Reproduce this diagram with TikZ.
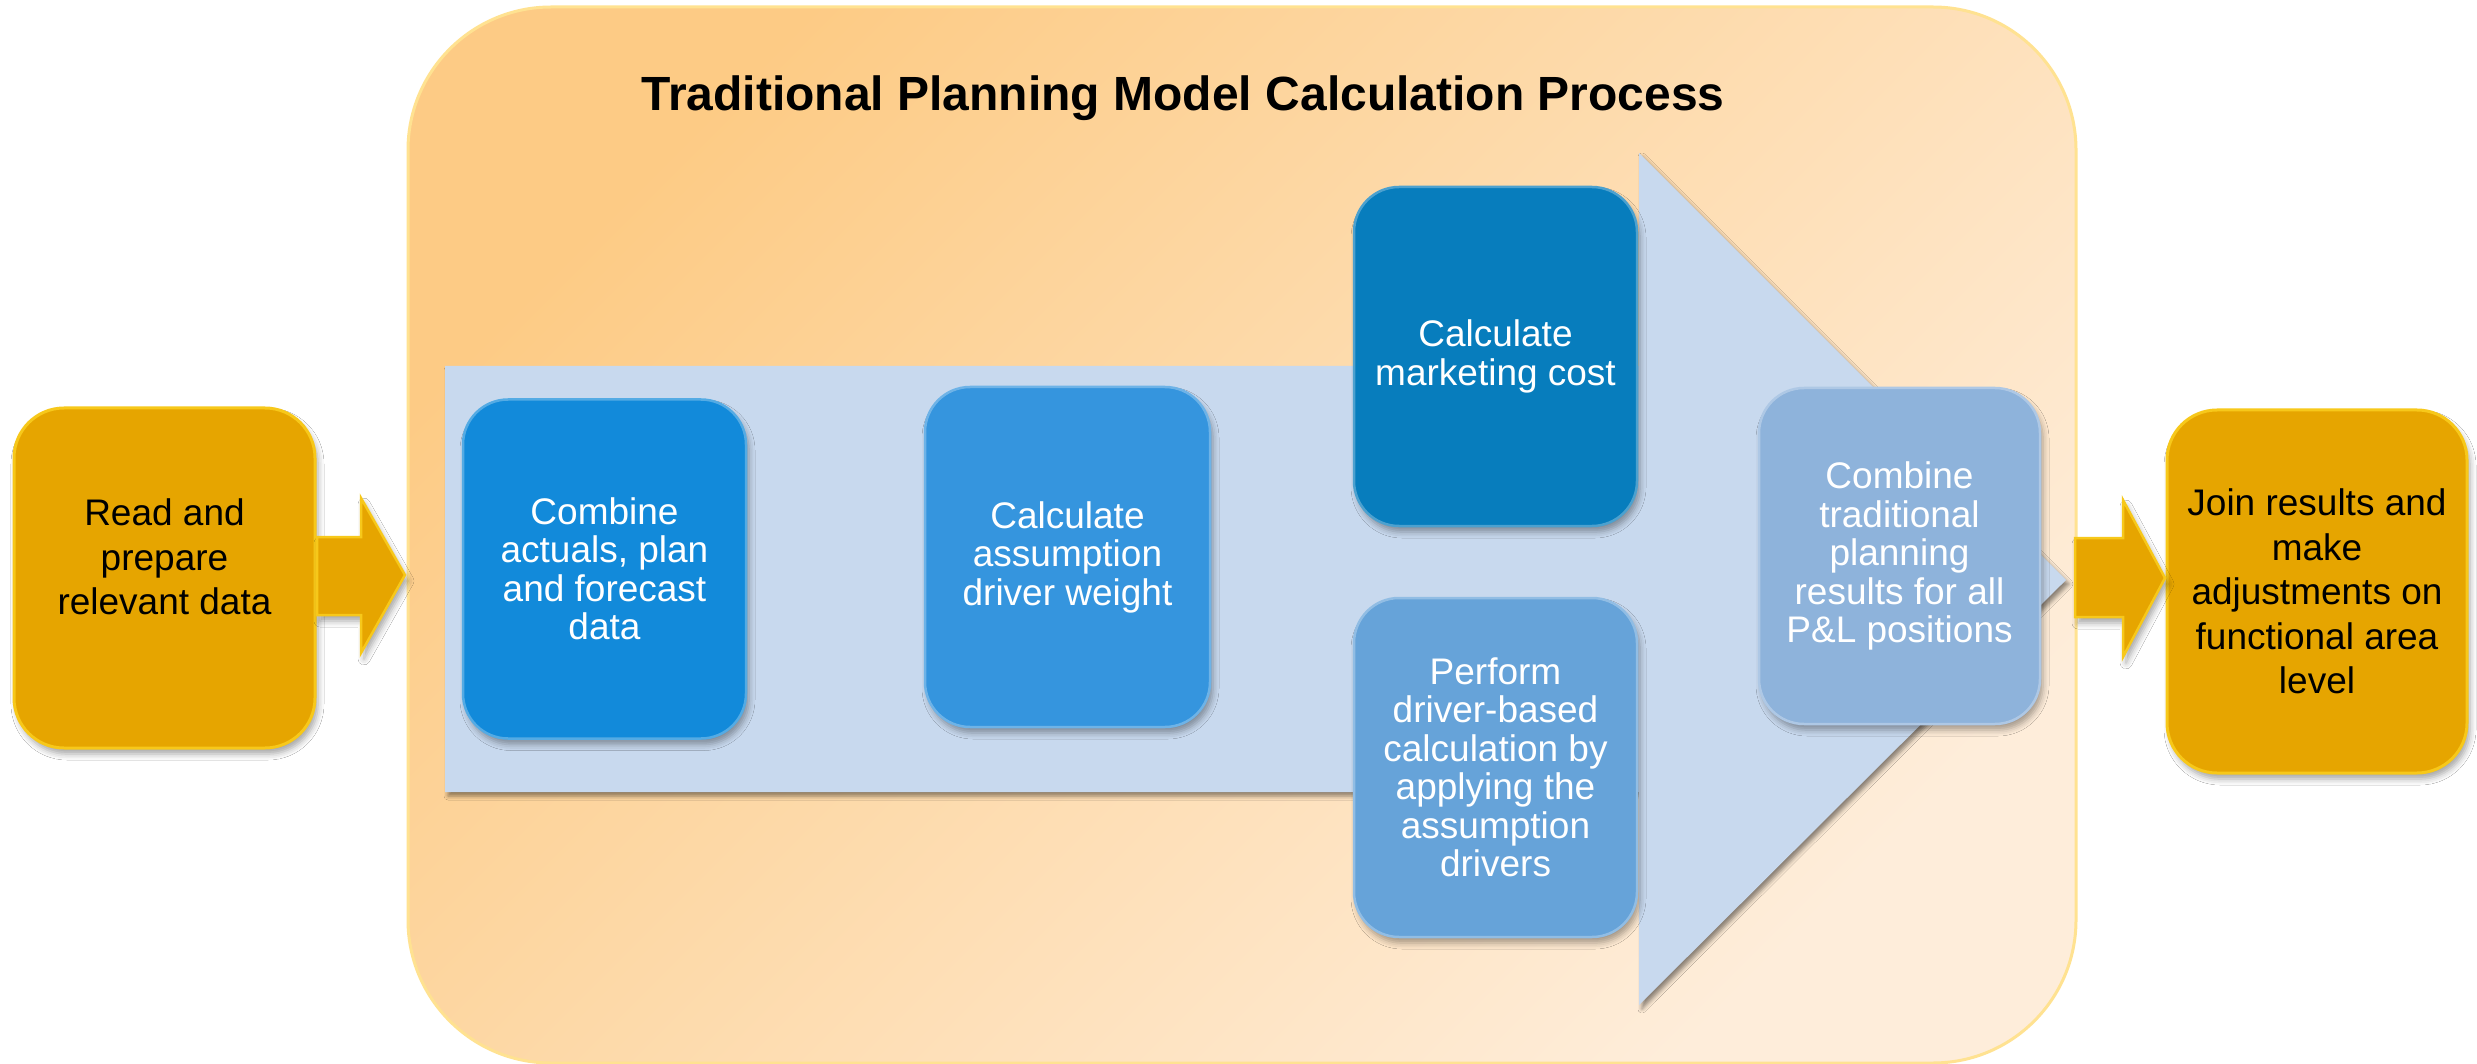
\documentclass[tikz,border=0pt]{standalone}
\usepackage{fontspec}
\setmainfont{Liberation Sans}
\usetikzlibrary{shadows,shadows.blur}
\definecolor{panelA}{HTML}{FDCB85}
\definecolor{panelB}{HTML}{FEEDDA}
\definecolor{panelEdge}{HTML}{FFE291}
\definecolor{arrowBlue}{HTML}{C8D9EE}
\definecolor{orangeFill}{HTML}{E6A500}
\definecolor{orangeEdge}{HTML}{F7C81A}
\definecolor{blueA}{HTML}{128ADA}
\definecolor{blueB}{HTML}{3595DE}
\definecolor{blueC}{HTML}{077DBD}
\definecolor{blueD}{HTML}{66A3D9}
\definecolor{blueE}{HTML}{8EB3DB}
\begin{document}
\begin{tikzpicture}[x=1pt,y=-1pt,
  softshadow/.style={blur shadow={shadow xshift=3pt, shadow yshift=-6pt, shadow blur radius=6pt, shadow opacity=35}},
  panelbox/.style={draw=panelEdge, line width=3pt, rounded corners=143pt,
    minimum width=1668pt, minimum height=1056pt, inner sep=0pt,
    top color=panelA, bottom color=panelB, shading angle=45},
  obox/.style={draw=orangeEdge, line width=3pt, fill=orangeFill, rounded corners=50pt,
    minimum width=301pt, minimum height=340pt, inner sep=0pt, align=center,
    text=black, font=\fontsize{37}{44.5}\selectfont, softshadow},
  otext/.style={align=center, text=black, inner sep=0pt, font=\fontsize{37}{44.5}\selectfont},
  bbox/.style={fill=#1, draw=#1!72!white, line width=2.5pt, rounded corners=45pt,
    minimum width=283pt, minimum height=339pt, inner sep=0pt, align=center,
    text=white, font=\fontsize{37}{38.5}\selectfont, softshadow},
  blockarrow/.style={fill=orangeFill, draw=orangeEdge, line width=2.5pt, line join=miter, softshadow},
  bigarrow/.style={fill=arrowBlue, draw=none, blur shadow={shadow xshift=3pt, shadow yshift=-4pt, shadow blur radius=4pt, shadow opacity=45}},
  titletext/.style={font=\fontsize{48}{58}\selectfont\bfseries, text=black, inner sep=0pt}
]
\useasboundingbox[fill=white] (0,0) rectangle (2477,1064);

% panel
\node[panelbox] (panel) at (1242,535) {};
\node[titletext, anchor=base] (title) at (1183,111) {Traditional Planning Model Calculation Process};

% big arrow
\fill[bigarrow] (445,366) -- (1639,366) -- (1639,153) -- (2066,580) -- (1639,1005) -- (1639,792) -- (445,792) -- cycle;

% blue steps
\node[bbox=blueA] (b1) at (604.5,569) {Combine\\actuals, plan\\and forecast\\data};
\node[bbox=blueB, minimum width=285pt, minimum height=340pt] (b2) at (1067.5,557) {Calculate\\assumption\\driver weight};
\node[bbox=blueC] (b3) at (1495.5,356.5) {Calculate\\marketing cost};
\node[bbox=blueD] (b4) at (1495.5,767.5) {Perform\\driver-based\\calculation by\\applying the\\assumption\\drivers};
\node[bbox=blueE, minimum width=281pt, minimum height=336pt] (b5) at (1899.5,556) {Combine\\traditional\\planning\\results for all\\P\&L positions};

% outer boxes
\node[obox] (read) at (164.5,578) {};
\node[otext] (readtxt) at (164.5,557) {Read and\\prepare\\relevant data};
\node[obox, minimum width=300pt, minimum height=363pt] (join) at (2317,591.5) {Join results and\\make\\adjustments on\\functional area\\level};

% block arrows
\coordinate (tipA) at (405,575);
\coordinate (tipB) at (2165,578);
\filldraw[blockarrow] (317,537) -- (361,537) -- (361,498) -- (tipA) -- (361,653) -- (361,615) -- (317,615) -- cycle;
\filldraw[blockarrow] (2075,538) -- (2123,538) -- (2123,500) -- (tipB) -- (2123,657) -- (2123,617) -- (2075,617) -- cycle;
\end{tikzpicture}
\end{document}
